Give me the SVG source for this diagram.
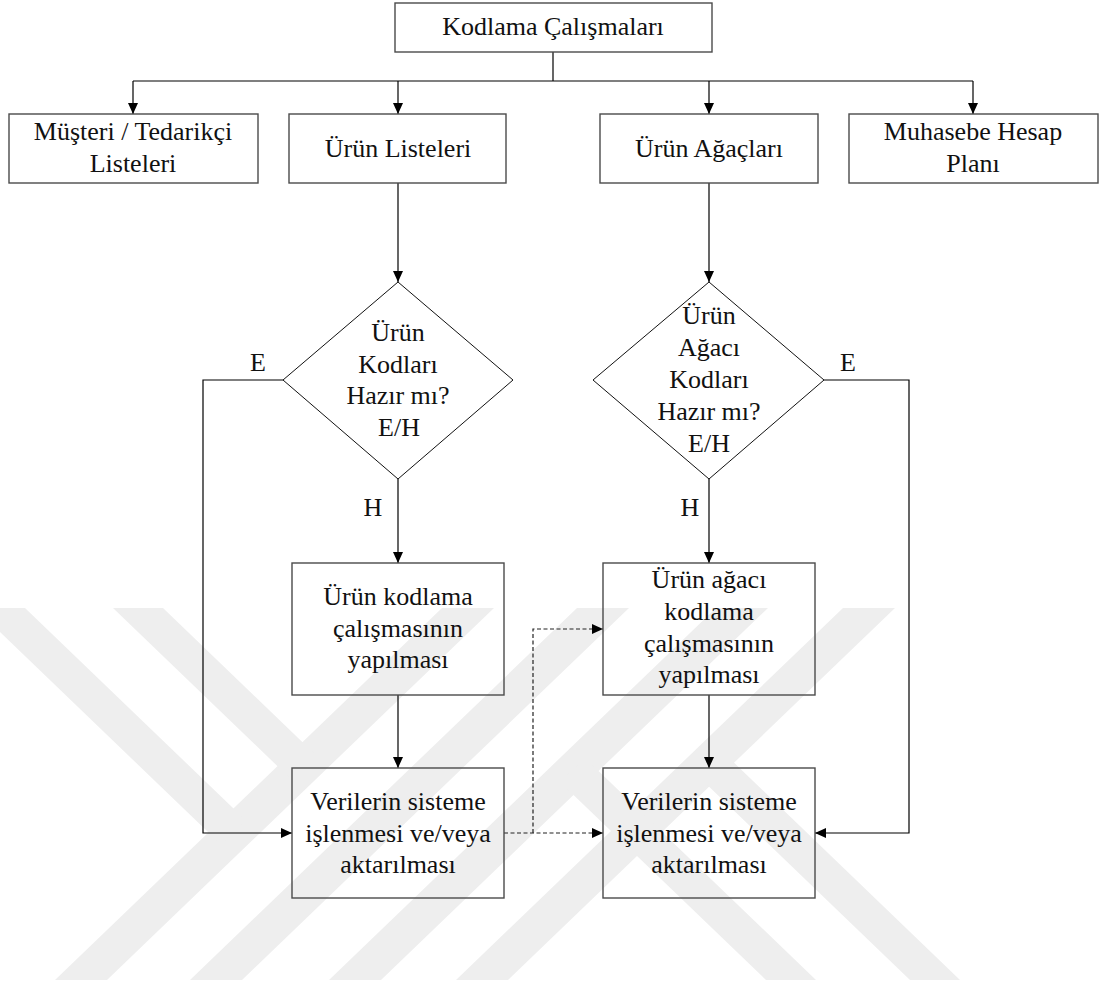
<svg xmlns="http://www.w3.org/2000/svg" width="1103" height="985" viewBox="0 0 1103 985">
  <defs>
    <style>
      .box { fill: none; stroke: #4a4a4a; stroke-width: 1.4; }
      .dia { fill: none; stroke: #111; stroke-width: 1; }
      .ln { fill: none; stroke: #000; stroke-width: 1.2; }
      .dash { fill: none; stroke: #222; stroke-width: 1.2; stroke-dasharray: 4 2.5; }
      text { font-family: "Liberation Serif", "Times New Roman", serif; font-size: 26px; fill: #111; text-anchor: middle; }
      .wm { fill: #eeeeee; }
    </style>
    <marker id="arr" viewBox="0 0 11 10" refX="11" refY="5" markerWidth="11" markerHeight="10" markerUnits="userSpaceOnUse" orient="auto">
      <path d="M0,0 L11,5 L0,10 z" fill="#000"/>
    </marker>
  </defs>

  <rect width="1103" height="985" fill="#fff"/>

  <!-- background watermark bands -->
  <g id="watermark">
    <polygon class="wm" points="442,608 494,608 107,980 55,980"/>
    <polygon class="wm" points="577,608 629,608 242,980 190,980"/>
    <polygon class="wm" points="716,608 768,608 381,980 329,980"/>
    <polygon class="wm" points="843,608 895,608 508,980 456,980"/>
    <polygon class="wm" points="-25,608 25,608 246,820.5 221,844.5"/>
    <polygon class="wm" points="113,608 163,608 315,754.2 290,778.2"/>
    <polygon class="wm" points="560,782 585,758 816,980 766,980"/>
    <polygon class="wm" points="695.6,773.8 720.6,749.8 960,980 910,980"/>
  </g>

  <!-- connectors -->
  <g id="connectors">
    <polyline class="ln" points="553,52 553,81"/>
    <polyline class="ln" points="133,81 973,81"/>
    <polyline class="ln" points="133,81 133,114" marker-end="url(#arr)"/>
    <polyline class="ln" points="398,81 398,114" marker-end="url(#arr)"/>
    <polyline class="ln" points="709,81 709,114" marker-end="url(#arr)"/>
    <polyline class="ln" points="973,81 973,114" marker-end="url(#arr)"/>
    <polyline class="ln" points="398,183 398,282" marker-end="url(#arr)"/>
    <polyline class="ln" points="709,183 709,282" marker-end="url(#arr)"/>
    <polyline class="ln" points="283,380 203,380 203,833 292,833" marker-end="url(#arr)"/>
    <polyline class="ln" points="398,479 398,563" marker-end="url(#arr)"/>
    <polyline class="ln" points="398,695 398,768" marker-end="url(#arr)"/>
    <polyline class="ln" points="824,380 909,380 909,833 815,833" marker-end="url(#arr)"/>
    <polyline class="ln" points="709,479 709,563" marker-end="url(#arr)"/>
    <polyline class="ln" points="709,695 709,768" marker-end="url(#arr)"/>
    <polyline class="dash" points="504,833 603,833" marker-end="url(#arr)"/>
    <polyline class="dash" points="533,833 533,629 603,629" marker-end="url(#arr)"/>
  </g>

  <g id="n-kodlama">
    <rect class="box" x="395" y="3" width="317" height="49"/>
    <text x="553" y="35">Kodlama Çalışmaları</text>
  </g>

  <g id="n-musteri">
    <rect class="box" x="9" y="114" width="249" height="69"/>
    <text x="133" y="140">Müşteri / Tedarikçi</text>
    <text x="133" y="172">Listeleri</text>
  </g>

  <g id="n-urun-listeleri">
    <rect class="box" x="289" y="114" width="217" height="69"/>
    <text x="398" y="157">Ürün Listeleri</text>
  </g>

  <g id="n-urun-agaclari">
    <rect class="box" x="600" y="114" width="218" height="69"/>
    <text x="709" y="157">Ürün Ağaçları</text>
  </g>

  <g id="n-muhasebe">
    <rect class="box" x="849" y="114" width="249" height="69"/>
    <text x="973" y="140">Muhasebe Hesap</text>
    <text x="973" y="172">Planı</text>
  </g>

  <g id="d-urun-kodlari">
    <polygon class="dia" points="398,282 513,380 398,479 283,380"/>
    <text x="398" y="341">Ürün</text>
    <text x="398" y="373">Kodları</text>
    <text x="398" y="404">Hazır mı?</text>
    <text x="399" y="436">E/H</text>
  </g>

  <g id="d-agac-kodlari">
    <polygon class="dia" points="709,282 824,380 709,479 593,380"/>
    <text x="709" y="324">Ürün</text>
    <text x="709" y="356">Ağacı</text>
    <text x="709" y="388">Kodları</text>
    <text x="709" y="420">Hazır mı?</text>
    <text x="709" y="452">E/H</text>
  </g>

  <g id="labels">
    <text x="258" y="371">E</text>
    <text x="848" y="371">E</text>
    <text x="373" y="516">H</text>
    <text x="690" y="516">H</text>
  </g>

  <g id="n-urun-kodlama">
    <rect class="box" x="292" y="563" width="212" height="132"/>
    <text x="398" y="605">Ürün kodlama</text>
    <text x="398" y="637">çalışmasının</text>
    <text x="398" y="668">yapılması</text>
  </g>

  <g id="n-agac-kodlama">
    <rect class="box" x="603" y="563" width="212" height="132"/>
    <text x="709" y="588">Ürün ağacı</text>
    <text x="709" y="620">kodlama</text>
    <text x="709" y="652">çalışmasının</text>
    <text x="709" y="683">yapılması</text>
  </g>

  <g id="n-veri-1">
    <rect class="box" x="292" y="768" width="212" height="130"/>
    <text x="398" y="810">Verilerin sisteme</text>
    <text x="398" y="842">işlenmesi ve/veya</text>
    <text x="398" y="873">aktarılması</text>
  </g>

  <g id="n-veri-2">
    <rect class="box" x="603" y="768" width="212" height="130"/>
    <text x="709" y="810">Verilerin sisteme</text>
    <text x="709" y="842">işlenmesi ve/veya</text>
    <text x="709" y="873">aktarılması</text>
  </g>
</svg>
